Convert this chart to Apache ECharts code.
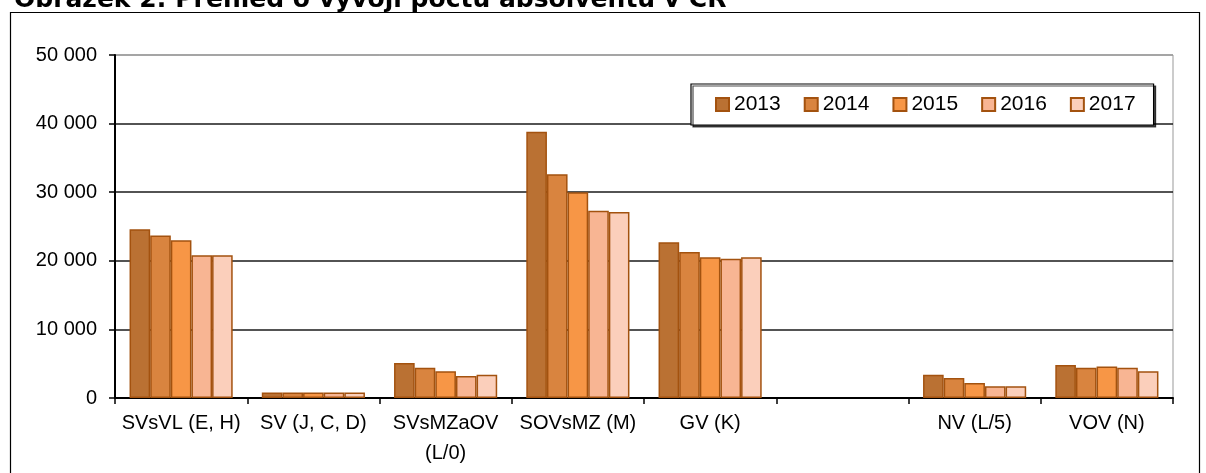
<!DOCTYPE html>
<html>
<head>
<meta charset="utf-8">
<script src="https://cdn.jsdelivr.net/npm/echarts@6/dist/echarts.min.js"></script>
<style>
  html, body { margin: 0; padding: 0; background: #fff; }
  #chart { width: 1206px; height: 473px; }
</style>
</head>
<body>
<div id="chart"></div>
<script>
const categories = ["SVsVL (E, H)", "SV (J, C, D)", "SVsMZaOV\n(L/0)", "SOVsMZ (M)", "GV (K)", "", "NV (L/5)", "VOV (N)"];
const years = ["2013", "2014", "2015", "2016", "2017"];
const y2013 = [24600, 800, 5100, 38800, 22700, "-", 3400, 4800];
const y2014 = [23700, 800, 4400, 32600, 21300, "-", 2900, 4400];
const y2015 = [23000, 800, 3900, 30000, 20500, "-", 2200, 4600];
const y2016 = [20800, 800, 3200, 27300, 20300, "-", 1700, 4400];
const y2017 = [20800, 800, 3400, 27100, 20500, "-", 1700, 3900];
const yTicks = [0, 10000, 20000, 30000, 40000, 50000];

const seriesData = [y2013, y2014, y2015, y2016, y2017];
const colors = ["#BA7133", "#D9843F", "#F79646", "#F8B593", "#FBCFBB"];
const edge = "#A3520F";

const chart = echarts.init(document.getElementById("chart"));

const fmt = (v) => String(v).replace(/\B(?=(\d{3})+(?!\d))/g, " ");

const option = {
  backgroundColor: "#fff",
  animation: false,
  textStyle: { fontFamily: "Liberation Sans, Arial, sans-serif" },
  graphic: [
    {
      type: "rect",
      shape: { x: 10.5, y: 12.5, width: 1189, height: 480 },
      style: { fill: "none", stroke: "#000", lineWidth: 1.2 },
      z: 0,
    },
    {
      type: "text",
      left: 14,
      top: -12,
      style: {
        text: "Obrázek 2: Přehled o vývoji počtu absolventů v ČR",
        font: "bold 25px 'DejaVu Sans', Verdana, sans-serif",
        fill: "#000",
      },
    },
  ],
  grid: {
    left: 115,
    right: 33,
    top: 55,
    bottom: 75,
    show: true,
    borderColor: "#999",
    borderWidth: 1,
  },
  legend: {
    data: years,
    left: 691,
    top: 84,
    padding: [10, 18, 10, 24],
    itemWidth: 13,
    itemHeight: 13,
    itemGap: 23,
    icon: "rect",
    backgroundColor: "#fff",
    borderColor: "#000",
    borderWidth: 1.2,
    shadowColor: "rgba(0,0,0,0.7)",
    shadowOffsetX: 2,
    shadowOffsetY: 2,
    textStyle: { fontSize: 21, color: "#000", fontFamily: "Liberation Sans, Arial, sans-serif" },
  },
  xAxis: {
    type: "category",
    data: categories,
    axisLine: { lineStyle: { color: "#000", width: 2 } },
    axisTick: { show: true, length: 6, lineStyle: { color: "#000", width: 1.5 } },
    axisLabel: {
      interval: 0,
      color: "#000",
      fontSize: 20,
      lineHeight: 30,
      margin: 10,
    },
  },
  yAxis: {
    type: "value",
    min: 0,
    max: 50000,
    interval: 10000,
    axisLine: { show: true, lineStyle: { color: "#000", width: 2 } },
    axisTick: { show: true, length: 6, lineStyle: { color: "#000", width: 1.5 } },
    axisLabel: {
      color: "#000",
      fontSize: 20,
      margin: 18,
      formatter: (v) => (yTicks.includes(v) ? fmt(v) : ""),
    },
    splitLine: {
      show: true,
      lineStyle: { color: ["#000", "#1a1a1a", "#1a1a1a", "#1a1a1a", "#1a1a1a", "#999"], width: 1.5 },
    },
  },
  series: years.map((name, i) => ({
    name: name,
    type: "bar",
    data: seriesData[i],
    barGap: "0%",
    barCategoryGap: "22%",
    itemStyle: {
      color: colors[i],
      borderColor: edge,
      borderWidth: 1.5,
    },
  })),
};

chart.setOption(option);
</script>
</body>
</html>
